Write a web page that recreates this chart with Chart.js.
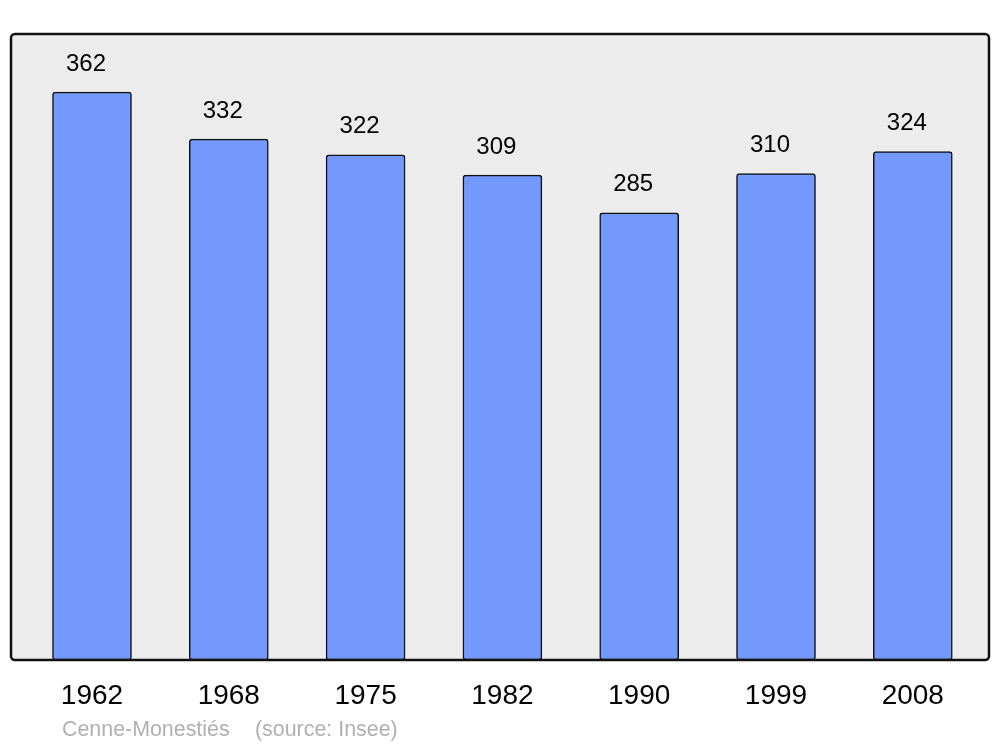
<!DOCTYPE html>
<html>
<head>
<meta charset="utf-8">
<script src="https://cdn.jsdelivr.net/npm/chart.js@4/dist/chart.umd.min.js"></script>
<style>
  html, body { margin: 0; padding: 0; background: #fff; }
  #wrap { width: 1000px; height: 747px; position: relative; }
</style>
</head>
<body>
<div id="wrap"><canvas id="popChart" width="1000" height="747"></canvas></div>
<script>
const years = ['1962', '1968', '1975', '1982', '1990', '1999', '2008'];
const population = [362, 332, 322, 309, 285, 310, 324];
const placeName = 'Cenne-Monestiés';
const sourceText = '(source: Insee)';

// frame + grey background behind the plot area
const framePlugin = {
    id: 'frame',
    beforeDatasetsDraw(chart) {
        const { ctx, chartArea: a } = chart;
        ctx.save();
        ctx.beginPath();
        ctx.roundRect(a.left, a.top, a.right - a.left, a.bottom - a.top, 4);
        ctx.fillStyle = '#ececec';
        ctx.fill();
        ctx.restore();
    },
    afterDatasetsDraw(chart) {
        const { ctx, chartArea: a } = chart;
        ctx.save();
        ctx.beginPath();
        ctx.roundRect(a.left, a.top, a.right - a.left, a.bottom - a.top, 4);
        ctx.lineWidth = 2.5;
        ctx.strokeStyle = '#111';
        ctx.stroke();

        // value labels above each bar
        const meta = chart.getDatasetMeta(0);
        ctx.font = '24px "Liberation Sans", Arial, sans-serif';
        ctx.fillStyle = '#000';
        ctx.textAlign = 'center';
        ctx.textBaseline = 'middle';
        meta.data.forEach((bar, i) => {
            ctx.fillText(population[i], bar.x - 6, bar.y - 28);
        });

        // footer
        ctx.font = '21.4px "Liberation Sans", Arial, sans-serif';
        ctx.fillStyle = '#b0b0b0';
        ctx.textAlign = 'left';
        ctx.fillText(placeName, 62, 730);
        ctx.fillText(sourceText, 255, 730);
        ctx.restore();
    }
};

new Chart(document.getElementById('popChart'), {
    type: 'bar',
    data: {
        datasets: [{
            data: population.map((v, i) => ({ x: i, y: v })),
            backgroundColor: '#7399ff',
            borderColor: '#111',
            borderWidth: 1.5,
            borderRadius: 3,
            borderSkipped: false,
            barThickness: 79
        }]
    },
    options: {
        responsive: false,
        animation: false,
        layout: { padding: { left: 11, right: 11, top: 34, bottom: 0 } },
        plugins: {
            legend: { display: false },
            tooltip: { enabled: false }
        },
        scales: {
            x: {
                type: 'linear',
                offset: false,
                min: -0.592,
                max: 6.557,
                grid: { display: false, drawTicks: false },
                border: { display: false },
                afterFit(scale) { scale.height = 87; },
                afterBuildTicks(scale) {
                    scale.ticks = years.map((y, i) => ({ value: i }));
                },
                ticks: {
                    padding: 19,
                    color: '#000',
                    font: { size: 28, family: '"Liberation Sans", Arial, sans-serif' },
                    callback: (v) => years[v]
                }
            },
            y: {
                display: false,
                min: 0,
                max: 399
            }
        }
    },
    plugins: [framePlugin]
});
</script>
</body>
</html>
